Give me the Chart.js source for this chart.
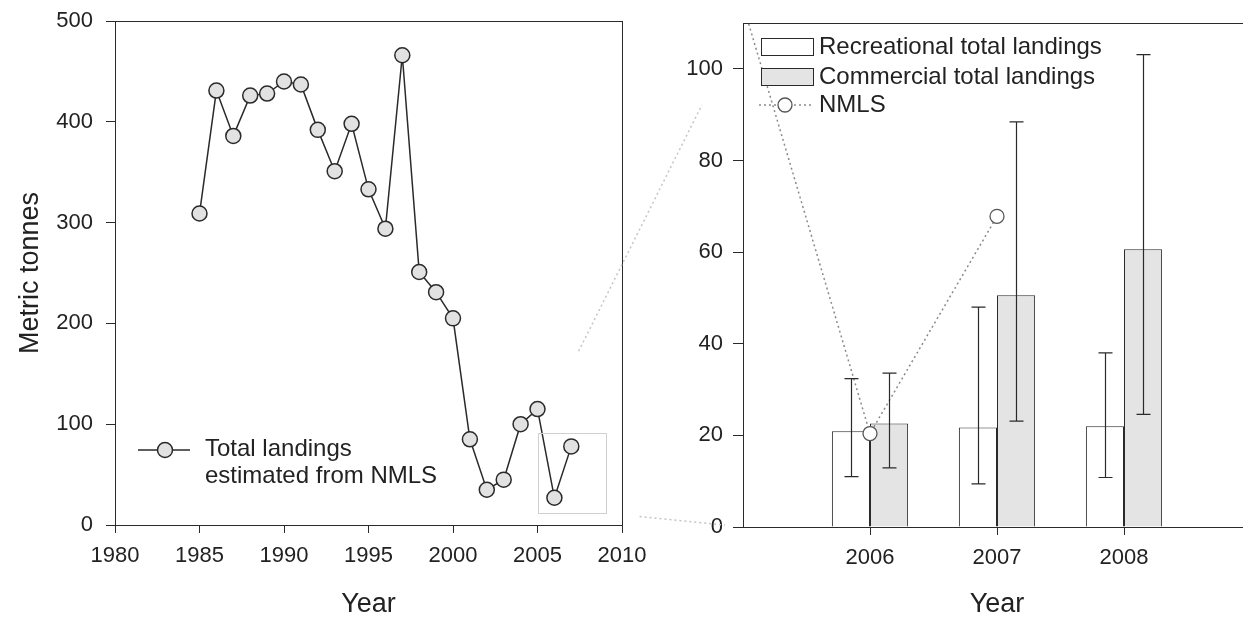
<!DOCTYPE html>
<html>
<head>
<meta charset="utf-8">
<script src="https://cdn.jsdelivr.net/npm/chart.js@4.4.1/dist/chart.umd.min.js"></script>
<style>
  html, body { margin: 0; padding: 0; width: 1243px; height: 622px; overflow: hidden; background: #fff; }
  #left { position: absolute; left: 0; top: 0; }
  #right { position: absolute; left: 640px; top: 0; }
  #overlay { position: absolute; left: 0; top: 0; pointer-events: none; }
</style>
</head>
<body>
<canvas id="left" width="660" height="622"></canvas>
<canvas id="right" width="640" height="622"></canvas>
<canvas id="overlay" width="1243" height="622"></canvas>
<script>
// left panel - total landings estimated from NMLS (metric tonnes)
const years = [1985, 1986, 1987, 1988, 1989, 1990, 1991, 1992, 1993, 1994, 1995, 1996,
               1997, 1998, 1999, 2000, 2001, 2002, 2003, 2004, 2005, 2006, 2007];
const totalLandings = [309, 431, 386, 426, 428, 440, 437, 392, 351, 398, 333, 294,
                       466, 251, 231, 205, 85, 35, 45, 100, 115, 27, 78];
const leftXTicks = [1980, 1985, 1990, 1995, 2000, 2005, 2010];
const leftYTicks = [0, 100, 200, 300, 400, 500];
const zoomYears = [2005, 2009]; // the small box that is blown up on the right
const zoomValues = [12, 91];

// right panel - 2006-2008 landings with error bars
const barYears = [2006, 2007, 2008];
const recreational = [20.9, 21.7, 22.0];
const recreationalLow = [11.0, 9.4, 10.8];
const recreationalHigh = [32.4, 48.0, 38.0];
const commercial = [22.6, 50.6, 60.6];
const commercialLow = [12.9, 23.1, 24.6];
const commercialHigh = [33.6, 88.4, 103.1];
const nmlsYears = [2005, 2006, 2007];
const nmls = [114, 20.4, 67.8];
const rightYTicks = [0, 20, 40, 60, 80, 100];

Chart.defaults.font.family = "'Liberation Sans', Arial, sans-serif";
Chart.defaults.color = '#222';

const INK = '#2a2a2a';
const FONT = "'Liberation Sans', Arial, sans-serif";
const TICK_SIZE = 22;
const TITLE_SIZE = 27;
const LEGEND_SIZE = 24;

// draws the box round the plot area
const boxPlugin = {
  id: 'box',
  beforeDatasetsDraw(chart) {
    const { ctx, chartArea: a } = chart;
    ctx.save();
    ctx.strokeStyle = INK;
    ctx.lineWidth = 1;
    ctx.strokeRect(Math.round(a.left) + 0.5, Math.round(a.top) + 0.5,
                   Math.round(a.right - a.left), Math.round(a.bottom - a.top));
    ctx.restore();
  }
};

function axisOpts(tickList, tickLen, pad, size) {
  return {
    afterBuildTicks: s => { s.ticks = tickList.map(v => ({ value: v })); },
    ticks: { font: { size: TICK_SIZE }, color: '#222', padding: pad, callback: v => String(v) },
    grid: { drawOnChartArea: false, drawTicks: true, tickLength: tickLen, color: INK, offset: false },
    border: { color: INK, width: 1 },
    afterFit: s => {
      if (s.isHorizontal()) s.height = size; else s.width = size;
      s.paddingLeft = s.paddingRight = s.paddingTop = s.paddingBottom = 0;
    }
  };
}

// --- left chart ---
const leftLegend = {
  id: 'leftLegend',
  afterDraw(chart) {
    const { ctx, chartArea: a } = chart;
    const y = a.bottom - 75;
    ctx.save();
    ctx.strokeStyle = INK;
    ctx.lineWidth = 1.5;
    ctx.beginPath();
    ctx.moveTo(a.left + 23, y);
    ctx.lineTo(a.left + 75, y);
    ctx.stroke();
    ctx.beginPath();
    ctx.arc(a.left + 50, y, 7.5, 0, Math.PI * 2);
    ctx.fillStyle = '#e2e2e2';
    ctx.fill();
    ctx.stroke();
    ctx.fillStyle = '#222';
    ctx.font = LEGEND_SIZE + 'px ' + FONT;
    ctx.textBaseline = 'middle';
    ctx.fillText('Total landings', a.left + 90, y - 1);
    ctx.fillText('estimated from NMLS', a.left + 90, y + 26);
    ctx.restore();
  }
};

const leftX = axisOpts(leftXTicks, 8, 10, 97);
leftX.type = 'linear';
leftX.position = 'bottom';
leftX.min = 1980;
leftX.max = 2010;
leftX.title = { display: true, text: 'Year', font: { size: TITLE_SIZE }, color: '#222', padding: { top: 0, bottom: 1 } };

const leftY = axisOpts(leftYTicks, 9, 13, 115);
leftY.min = 0;
leftY.max = 500;
leftY.title = { display: true, text: 'Metric tonnes', font: { size: TITLE_SIZE }, color: '#222', padding: { top: 14, bottom: 0 } };

const leftChart = new Chart(document.getElementById('left'), {
  type: 'line',
  data: {
    datasets: [{
      data: years.map((y, i) => ({ x: y, y: totalLandings[i] })),
      borderColor: INK,
      borderWidth: 1.5,
      pointRadius: 7.5,
      pointBackgroundColor: '#e2e2e2',
      pointBorderColor: INK,
      pointBorderWidth: 1.5,
      tension: 0
    }]
  },
  options: {
    responsive: false,
    animation: false,
    layout: { padding: { top: 21, right: 38, left: 0, bottom: 0 } },
    plugins: { legend: { display: false }, tooltip: { enabled: false } },
    scales: { x: leftX, y: leftY }
  },
  plugins: [boxPlugin, leftLegend]
});

// --- right chart ---
const errorBars = {
  id: 'errorBars',
  afterDatasetsDraw(chart) {
    const { ctx } = chart;
    const yScale = chart.scales.y;
    const sets = [[1, recreationalLow, recreationalHigh], [2, commercialLow, commercialHigh]];
    ctx.save();
    ctx.strokeStyle = INK;
    ctx.lineWidth = 1.2;
    sets.forEach(([di, lo, hi]) => {
      chart.getDatasetMeta(di).data.forEach((bar, i) => {
        const x = Math.round(bar.x) + 0.5;
        const yl = yScale.getPixelForValue(lo[i]);
        const yh = yScale.getPixelForValue(hi[i]);
        ctx.beginPath();
        ctx.moveTo(x, yl); ctx.lineTo(x, yh);
        ctx.moveTo(x - 7, yl); ctx.lineTo(x + 7, yl);
        ctx.moveTo(x - 7, yh); ctx.lineTo(x + 7, yh);
        ctx.stroke();
      });
    });
    ctx.restore();
  }
};

const rightLegend = {
  id: 'rightLegend',
  afterDraw(chart) {
    const { ctx, chartArea: a } = chart;
    const x0 = a.left + 18, w = 52, h = 17;
    ctx.save();
    ctx.strokeStyle = INK;
    ctx.lineWidth = 1;
    ctx.fillStyle = '#fff';
    ctx.fillRect(x0, 38, w, h);
    ctx.strokeRect(x0 + 0.5, 38.5, w, h);
    ctx.fillStyle = '#e4e4e4';
    ctx.fillRect(x0, 68, w, h);
    ctx.strokeRect(x0 + 0.5, 68.5, w, h);
    // NMLS sample
    ctx.strokeStyle = '#8a8a8a';
    ctx.lineWidth = 1.5;
    ctx.setLineDash([2, 3]);
    ctx.beginPath();
    ctx.moveTo(x0 - 2, 105); ctx.lineTo(x0 + w, 105);
    ctx.stroke();
    ctx.setLineDash([]);
    ctx.beginPath();
    ctx.arc(x0 + 24, 105, 7, 0, Math.PI * 2);
    ctx.fillStyle = '#fff';
    ctx.fill();
    ctx.strokeStyle = '#555';
    ctx.lineWidth = 1.3;
    ctx.stroke();
    ctx.fillStyle = '#222';
    ctx.font = LEGEND_SIZE + 'px ' + FONT;
    ctx.textBaseline = 'middle';
    ctx.fillText('Recreational total landings', a.left + 76, 47);
    ctx.fillText('Commercial total landings', a.left + 76, 77);
    ctx.fillText('NMLS', a.left + 76, 105);
    ctx.restore();
  }
};

const rightX = axisOpts(barYears, 8, 10, 95);
rightX.type = 'linear';
rightX.position = 'bottom';
rightX.min = 2005;
rightX.max = 2009;
rightX.offset = false;
rightX.title = { display: true, text: 'Year', font: { size: TITLE_SIZE }, color: '#222', padding: { top: 0, bottom: 1 } };

const rightY = axisOpts(rightYTicks, 10, 10, 103);
rightY.min = 0;
rightY.max = 110;

const rightChart = new Chart(document.getElementById('right'), {
  type: 'bar',
  data: {
    datasets: [
      {
        type: 'line',
        label: 'NMLS',
        data: nmlsYears.map((y, i) => ({ x: y, y: nmls[i] })),
        borderColor: '#8a8a8a',
        borderWidth: 1.5,
        borderDash: [2, 3],
        pointRadius: 7,
        pointBackgroundColor: '#fff',
        pointBorderColor: '#555',
        pointBorderWidth: 1.3,
        tension: 0,
        order: 0
      },
      {
        label: 'Recreational total landings',
        data: barYears.map((y, i) => ({ x: y, y: recreational[i] })),
        backgroundColor: '#fff',
        borderColor: INK,
        borderWidth: 1,
        categoryPercentage: 0.6,
        barPercentage: 1,
        order: 1
      },
      {
        label: 'Commercial total landings',
        data: barYears.map((y, i) => ({ x: y, y: commercial[i] })),
        backgroundColor: '#e4e4e4',
        borderColor: INK,
        borderWidth: 1,
        categoryPercentage: 0.6,
        barPercentage: 1,
        order: 1
      }
    ]
  },
  options: {
    responsive: false,
    animation: false,
    layout: { padding: { top: 23, right: 29, left: 0, bottom: 0 } },
    plugins: { legend: { display: false }, tooltip: { enabled: false } },
    scales: { x: rightX, y: rightY }
  },
  plugins: [boxPlugin, errorBars, rightLegend]
});

// zoom box on the left panel and the faint lines that lead to the right panel
(function drawConnectors() {
  const ctx = document.getElementById('overlay').getContext('2d');
  const lx = leftChart.scales.x, ly = leftChart.scales.y;
  const offs = 640; // left edge of the right canvas
  const x1 = lx.getPixelForValue(zoomYears[0]), x2 = lx.getPixelForValue(zoomYears[1]);
  const yTop = ly.getPixelForValue(zoomValues[1]), yBot = ly.getPixelForValue(zoomValues[0]);
  const ra = rightChart.chartArea;
  ctx.strokeStyle = '#d0d0d0';
  ctx.lineWidth = 1;
  ctx.strokeRect(Math.round(x1) + 0.5, Math.round(yTop) + 0.5, Math.round(x2 - x1), Math.round(yBot - yTop));
  ctx.setLineDash([2, 3]);
  ctx.strokeStyle = '#c4c4c4';
  ctx.lineWidth = 1.5;
  const seg = (ax, ay, bx, by, t0, t1) => {
    ctx.beginPath();
    ctx.moveTo(ax + (bx - ax) * t0, ay + (by - ay) * t0);
    ctx.lineTo(ax + (bx - ax) * t1, ay + (by - ay) * t1);
    ctx.stroke();
  };
  seg(x1, yTop, offs + ra.left, ra.top, 0.2, 0.8);
  seg(x2, yBot, offs + ra.left, ra.bottom, 0.25, 0.87);
})();
</script>
</body>
</html>
